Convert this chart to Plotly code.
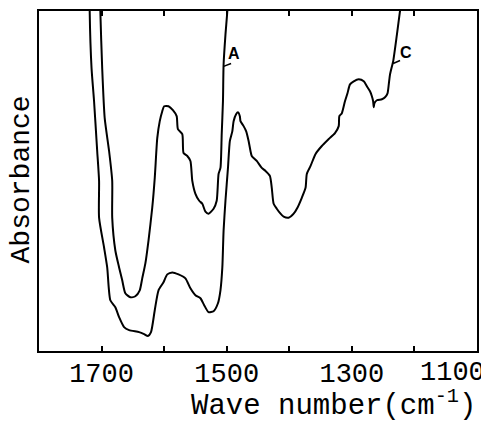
import plotly.graph_objects as go

# Curve A (upper/inner trace): wave number (cm-1), absorbance (arb.)
wn_a = [1702, 1702, 1699, 1695, 1688, 1683, 1683, 1678, 1672, 1667, 1662, 1654, 1646, 1639,
        1635, 1630, 1625, 1619, 1615, 1614, 1611, 1607, 1603, 1600, 1593, 1586, 1580, 1578,
        1571, 1569, 1563, 1558, 1555, 1550, 1544, 1539, 1534, 1529, 1521, 1516, 1513, 1510,
        1508, 1506, 1505, 1502, 1499, 1499]
abs_a = [346, 342, 284, 234, 201, 171, 134, 101, 84, 71, 58, 54, 55, 61,
         73, 88, 111, 144, 174, 184, 214, 231, 241, 246, 246, 242, 236, 223,
         218, 199, 196, 191, 171, 158, 151, 148, 140, 138, 143, 151, 178, 184,
         218, 251, 288, 318, 342, 346]

# Curve C (lower/outer trace)
wn_c = [1719, 1719, 1716, 1712, 1708, 1707, 1704, 1704, 1696, 1691, 1686, 1678, 1672, 1664,
        1656, 1640, 1632, 1626, 1621, 1615, 1609, 1601, 1595, 1587, 1577, 1566, 1558, 1550,
        1542, 1536, 1529, 1521, 1514, 1510, 1507, 1505, 1502, 1498, 1495, 1491, 1489, 1485,
        1482, 1479, 1478, 1473, 1469, 1465, 1462, 1460, 1452, 1444, 1438, 1431, 1428, 1425,
        1420, 1414, 1409, 1401, 1393, 1387, 1380, 1374, 1372, 1366, 1358, 1348, 1337, 1327,
        1321, 1320, 1316, 1311, 1307, 1303, 1297, 1289, 1281, 1276, 1271, 1268, 1266, 1265,
        1264, 1260, 1252, 1247, 1243, 1241, 1239, 1236, 1234, 1228, 1223, 1222]
abs_c = [346, 342, 284, 251, 211, 201, 171, 134, 104, 84, 51, 44, 34, 24,
         21, 19, 17, 15, 19, 41, 61, 69, 77, 79, 77, 73, 63, 56,
         53, 46, 39, 40, 48, 61, 84, 121, 151, 184, 211, 221, 231, 238,
         240, 236, 231, 226, 221, 211, 201, 196, 191, 184, 181, 176, 164, 148,
         143, 138, 135, 134, 138, 144, 154, 164, 178, 186, 198, 206, 213, 219,
         226, 236, 239, 251, 259, 268, 271, 273, 271, 266, 261, 256, 251, 245,
         249, 252, 253, 255, 259, 268, 278, 286, 291, 318, 342, 346]

major_tick_vals = [1700, 1500, 1300]
major_tick_text = ["1700", "1500", "1300"]
minor_tick_vals = [1600, 1400, 1200]
edge_tick_val = 1100
edge_label = "1100"

curve_labels = ["A", "C"]
label_pos_wn = [1489, 1214]
label_pos_abs = [299, 300]
leader_from = [(1505, 286), (1234, 289)]
leader_to = [(1493, 289), (1223, 292)]

FONT = "Liberation Mono"

fig = go.Figure()
for wn, ab, name in [(wn_a, abs_a, "A"), (wn_c, abs_c, "C")]:
    fig.add_trace(go.Scatter(x=wn, y=ab, mode="lines", name=name,
                             line=dict(color="black", width=2, shape="spline", smoothing=0.6),
                             showlegend=False, hoverinfo="skip"))

annotations = []
for t, x, y in zip(curve_labels, label_pos_wn, label_pos_abs):
    annotations.append(dict(x=x, y=y, xref="x", yref="y", text=t, showarrow=False,
                            font=dict(family="Liberation Sans", size=16, color="black", weight="bold")))
annotations.append(dict(x=edge_tick_val, y=0, xref="x", yref="paper", text=edge_label, showarrow=False,
                        xanchor="right", yanchor="top", xshift=9, yshift=-6, borderpad=0,
                        font=dict(family=FONT, size=27, color="black")))
annotations.append(dict(x=0.672, y=-0.155, xref="paper", yref="paper",
                        text="Wave number(cm<sup>-1</sup>)", showarrow=False, borderpad=0,
                        xanchor="center", yanchor="middle",
                        font=dict(family=FONT, size=29, color="black")))
annotations.append(dict(x=-0.04, y=0.506, xref="paper", yref="paper", text="Absorbance",
                        showarrow=False, textangle=-90, xanchor="center", yanchor="middle",
                        borderpad=0, font=dict(family=FONT, size=28, color="black")))

shapes = []
for (x0, y0), (x1, y1) in zip(leader_from, leader_to):
    shapes.append(dict(type="line", x0=x0, y0=y0, x1=x1, y1=y1, xref="x", yref="y",
                       line=dict(color="black", width=1.5)))

fig.update_layout(
    width=481, height=416,
    margin=dict(l=31, r=12, t=1, b=73),
    paper_bgcolor="white", plot_bgcolor="white",
    annotations=annotations, shapes=shapes,
    xaxis=dict(range=[1800, 1100], tickvals=major_tick_vals, ticktext=major_tick_text,
               ticks="inside", ticklen=5, tickwidth=1.5, tickcolor="black",
               minor=dict(tickvals=minor_tick_vals, ticks="inside", ticklen=5,
                          tickwidth=1.5, tickcolor="black", showgrid=False),
               showline=True, linecolor="black", linewidth=2, mirror="ticks",
               showgrid=False, zeroline=False, ticklabelstandoff=-3,
               tickfont=dict(family=FONT, size=27, color="black")),
    yaxis=dict(range=[0, 341.7], showticklabels=False, ticks="",
               showline=True, linecolor="black", linewidth=2, mirror=True,
               showgrid=False, zeroline=False),
)

fig.write_html("out.html")
